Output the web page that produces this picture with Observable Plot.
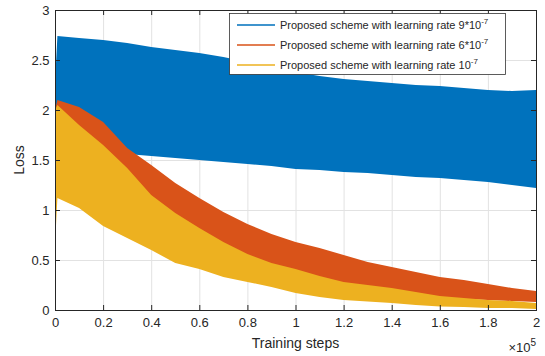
<!DOCTYPE html>
<html><head><meta charset="utf-8">
<script src="https://cdn.jsdelivr.net/npm/d3@7"></script>
<script src="https://cdn.jsdelivr.net/npm/@observablehq/plot@0.6"></script>
<style>html,body{margin:0;padding:0;background:#fff}svg{display:block}</style>
</head><body><div id="chart"></div>
<script>
const steps = [0, 1000, 10000, 20000, 30000, 40000, 50000, 60000, 70000, 80000, 90000, 100000,
  110000, 120000, 130000, 140000, 150000, 160000, 170000, 180000, 190000, 200000];
// learning rate 9*10^-7 (upper / lower edge of the noisy band)
const blueHigh = [2.27, 2.74, 2.72, 2.70, 2.67, 2.63, 2.60, 2.57, 2.53, 2.48, 2.43, 2.38, 2.34, 2.31, 2.29, 2.27, 2.25, 2.24, 2.22, 2.20, 2.19, 2.20];
const blueLow  = [1.60, 1.60, 1.60, 1.58, 1.56, 1.54, 1.52, 1.50, 1.48, 1.46, 1.44, 1.41, 1.40, 1.38, 1.37, 1.35, 1.33, 1.32, 1.30, 1.28, 1.25, 1.22];
// learning rate 6*10^-7
const orangeHigh = [2.00, 2.10, 2.03, 1.88, 1.62, 1.45, 1.27, 1.12, 0.98, 0.86, 0.76, 0.68, 0.62, 0.55, 0.48, 0.43, 0.38, 0.33, 0.30, 0.26, 0.22, 0.19];
const orangeLow  = [1.40, 1.25, 1.10, 0.95, 0.85, 0.75, 0.65, 0.57, 0.50, 0.43, 0.37, 0.32, 0.27, 0.23, 0.20, 0.17, 0.14, 0.12, 0.11, 0.10, 0.09, 0.08];
// learning rate 10^-7
const yellowHigh = [2.00, 2.05, 1.85, 1.65, 1.42, 1.15, 0.97, 0.82, 0.68, 0.56, 0.47, 0.41, 0.34, 0.28, 0.25, 0.22, 0.18, 0.14, 0.12, 0.10, 0.09, 0.07];
const yellowLow  = [0.65, 1.12, 1.02, 0.84, 0.72, 0.60, 0.47, 0.41, 0.33, 0.28, 0.23, 0.17, 0.13, 0.10, 0.085, 0.07, 0.05, 0.035, 0.03, 0.02, 0.02, 0.01];

const xTicks = [0, 20000, 40000, 60000, 80000, 100000, 120000, 140000, 160000, 180000, 200000];
const xTickLabels = ["0", "0.2", "0.4", "0.6", "0.8", "1", "1.2", "1.4", "1.6", "1.8", "2"];
const yTicks = [0, 0.5, 1, 1.5, 2, 2.5, 3];
const yTickLabels = ["0", "0.5", "1", "1.5", "2", "2.5", "3"];
const seriesNames = ["Proposed scheme with learning rate 9*10", "Proposed scheme with learning rate 6*10", "Proposed scheme with learning rate 10"];
const seriesExps = ["-7", "-7", "-7"];
const colors = ["#0072BD", "#D95319", "#EDB120"];

const rows = steps.map((s, i) => ({s,
  bh: blueHigh[i], bl: blueLow[i], oh: orangeHigh[i], ol: orangeLow[i], yh: yellowHigh[i], yl: yellowLow[i]}));

const W = 545, H = 356, mL = 55, mR = 9, mT = 10, mB = 46;
const font = "'Liberation Sans', Arial, Helvetica, sans-serif";
const ink = "#262626", gridColor = "#e2e2e2";
const tickLen = 5;
const xPer = 200000 / (W - mL - mR), yPer = 3 / (H - mT - mB);

const svg = Plot.plot({
  width: W, height: H, marginLeft: mL, marginRight: mR, marginTop: mT, marginBottom: mB,
  style: {fontFamily: font, fontSize: "13px", color: ink, background: "#fff"},
  x: {domain: [0, 200000]},
  y: {domain: [0, 3]},
  marks: [
    Plot.gridX(xTicks, {stroke: gridColor, strokeOpacity: 1}),
    Plot.gridY(yTicks, {stroke: gridColor, strokeOpacity: 1}),
    Plot.areaY(rows, {x: "s", y1: "bl", y2: "bh", fill: colors[0]}),
    Plot.areaY(rows, {x: "s", y1: "ol", y2: "oh", fill: colors[1]}),
    Plot.areaY(rows, {x: "s", y1: "yl", y2: "yh", fill: colors[2]}),
    // inward ticks on all four sides
    Plot.ruleX(xTicks, {y1: 0, y2: tickLen * yPer, stroke: ink}),
    Plot.ruleX(xTicks, {y1: 3 - tickLen * yPer, y2: 3, stroke: ink}),
    Plot.ruleY(yTicks, {x1: 0, x2: tickLen * xPer, stroke: ink}),
    Plot.ruleY(yTicks, {x1: 200000 - tickLen * xPer, x2: 200000, stroke: ink}),
    Plot.frame({stroke: ink, strokeWidth: 1}),
    Plot.axisX(xTicks, {tickSize: 0, tickPadding: 7, label: null, fontSize: 13,
      tickFormat: d => xTickLabels[xTicks.indexOf(d)]}),
    Plot.axisY(yTicks, {tickSize: 0, tickPadding: 6, label: null, fontSize: 13,
      tickFormat: d => yTickLabels[yTicks.indexOf(d)]})
  ]
});

const s = d3.select(svg);
// axis titles
s.append("text").attr("x", (mL + W - mR) / 2).attr("y", 348).attr("text-anchor", "middle")
  .attr("font-family", font).attr("font-size", 14).attr("fill", ink).text("Training steps");
s.append("text").attr("transform", `translate(24,${(mT + H - mB) / 2}) rotate(-90)`).attr("text-anchor", "middle")
  .attr("font-family", font).attr("font-size", 14).attr("fill", ink).text("Loss");
const mult = s.append("text").attr("x", W - mR).attr("y", 352).attr("text-anchor", "end")
  .attr("font-family", font).attr("font-size", 13).attr("fill", ink);
mult.append("tspan").text("\u00d710");
mult.append("tspan").attr("dy", -6).attr("font-size", 10).text("5");

// legend
const lg = s.append("g").attr("font-family", font).attr("font-size", 11)
  .attr("text-anchor", "start");
lg.append("rect").attr("x", 229.5).attr("y", 13.5).attr("width", 276).attr("height", 61)
  .style("fill", "#fff").style("stroke", "#333").style("stroke-width", "0.8");
seriesNames.forEach((name, i) => {
  const y = 25 + i * 20;
  lg.append("rect").attr("x", 237).attr("y", y - 0.75).attr("width", 38).attr("height", 1.5)
    .style("fill", colors[i]).style("stroke", "none");
  const t = lg.append("text").attr("x", 280).attr("y", y + 4).attr("text-anchor", "start")
    .style("fill", ink).style("stroke", "none");
  t.append("tspan").text(name);
  t.append("tspan").attr("dy", -5).attr("font-size", 8).text(seriesExps[i]);
});

document.getElementById("chart").appendChild(svg);
</script>
</body></html>
